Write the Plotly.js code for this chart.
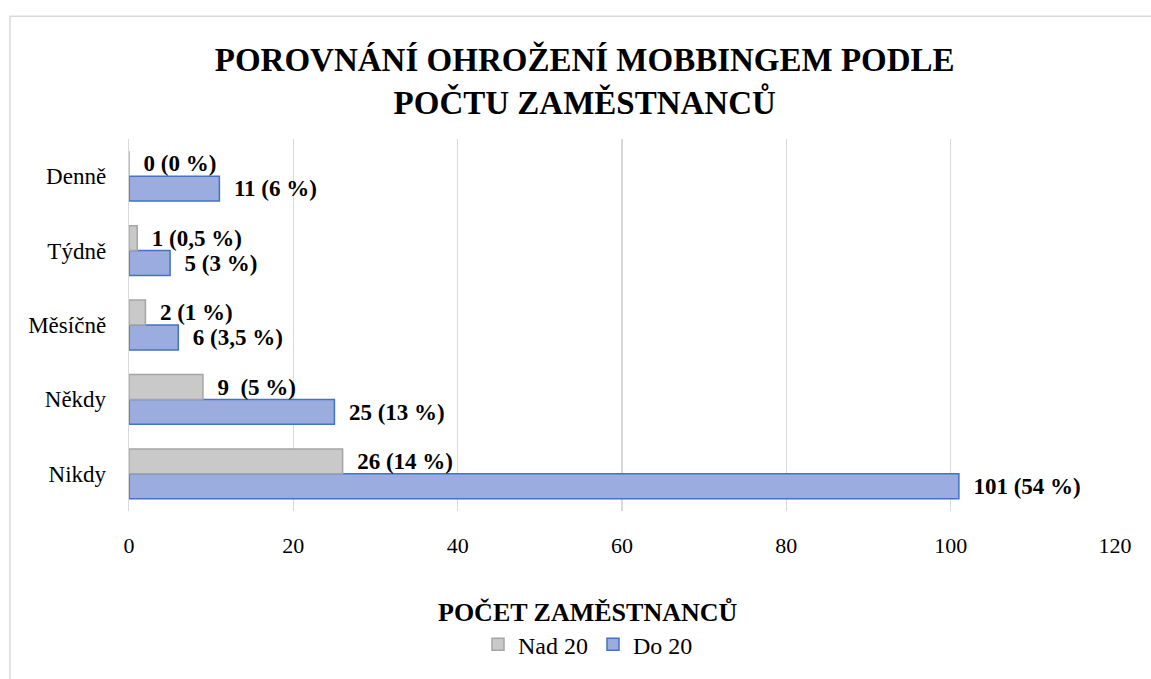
<!DOCTYPE html>
<html><head><meta charset="utf-8">
<script src="https://cdn.plot.ly/plotly-3.0.1.min.js"></script>
<style>html,body{margin:0;padding:0;background:#fff}#c{width:1151px;height:679px}</style>
</head><body><div id="c"></div>
<script>
const categories = ["Nikdy", "Někdy", "Měsíčně", "Týdně", "Denně"];
const nad20 = [26, 9, 2, 1, 0];
const nad20Labels = ["26 (14 %)", "9  (5 %)", "2 (1 %)", "1 (0,5 %)", "0 (0 %)"];
const do20 = [101, 25, 6, 5, 11];
const do20Labels = ["101 (54 %)", "25 (13 %)", "6 (3,5 %)", "5 (3 %)", "11 (6 %)"];
const xTicks = [0, 20, 40, 60, 80, 100, 120];

const font = "Liberation Serif, Times New Roman, serif";
const labelFont = {family: font, size: 24, color: "#000"};

const traces = [
  {type: "bar", orientation: "h", name: "Do 20", y: categories, x: do20,
   text: do20Labels, texttemplate: "\u2002<b>%{text}</b>", textposition: "outside", cliponaxis: false,
   textfont: labelFont,
   marker: {color: "#9badde", line: {color: "#4472c4", width: 1.5}}},
  {type: "bar", orientation: "h", name: "Nad 20", y: categories, x: nad20,
   text: nad20Labels, texttemplate: "\u2002<b>%{text}</b>", textposition: "outside", cliponaxis: false,
   textfont: labelFont,
   marker: {color: "#c9c9c9", line: {color: "#a5a5a5", width: 1.5}}}
];

const layout = {
  width: 1151, height: 679,
  margin: {l: 129, r: 36, t: 139, b: 164},
  paper_bgcolor: "#fff", plot_bgcolor: "#fff",
  font: {family: font, color: "#000"},
  title: {text: "<b>POROVNÁNÍ OHROŽENÍ MOBBINGEM PODLE<br>POČTU ZAMĚSTNANCŮ</b>",
          font: {family: font, size: 33, color: "#000"}, x: 0.508, xanchor: "center", y: 0.895, yanchor: "middle"},
  barmode: "group", bargap: 0.33, bargroupgap: 0,
  xaxis: {range: [0, 120], tickvals: xTicks, showgrid: true, gridcolor: "#d9d9d9", gridwidth: 1.3,
          zeroline: false, showline: false, ticks: "", tickfont: {family: font, size: 22, color: "#000"},
          ticklabelstandoff: 19},
  yaxis: {showgrid: false, zeroline: false, showline: true, linecolor: "#d9d9d9", linewidth: 1.3, ticks: "",
          tickfont: {family: font, size: 23, color: "#000"}, ticklabelstandoff: 17},
  legend: {orientation: "h", x: (588 - 129) / 986, xanchor: "center", y: (515 - 650) / 376, yanchor: "middle",
           traceorder: "reversed", font: {family: font, size: 24, color: "#000"}, itemwidth: 30},
  showlegend: true,
  annotations: [{text: "<b>POČET ZAMĚSTNANCŮ</b>", xref: "paper", yref: "paper",
                 x: (588 - 129) / 986, y: (515 - 617) / 376, xanchor: "center", yanchor: "middle",
                 showarrow: false, font: {family: font, size: 26, color: "#000"}}],
  shapes: [{type: "rect", xref: "paper", yref: "paper", x0: (10 - 129) / 986, x1: (1170 - 129) / 986,
            y0: (515 - 700) / 376, y1: (515 - 15) / 376,
            line: {color: "#d9d9d9", width: 1.5}, fillcolor: "rgba(0,0,0,0)", layer: "below"}]
};

Plotly.newPlot("c", traces, layout, {displayModeBar: false, staticPlot: true});
</script></body></html>
